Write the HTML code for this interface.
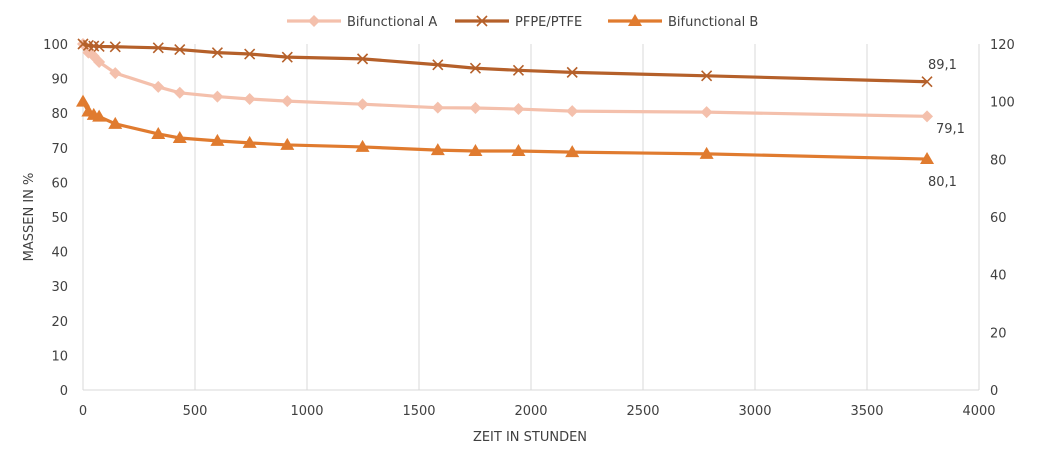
<!DOCTYPE html>
<html><head><meta charset="utf-8"><style>
body{margin:0;background:#fff;font-family:"DejaVu Sans","Liberation Sans",sans-serif;}
svg text{font-family:"DejaVu Sans","Liberation Sans",sans-serif;fill:#404040;font-size:13px;}
</style></head><body>
<svg id="c" width="1045" height="449"></svg>
<script>
const hours=[0,24,48,72,144,336,432,600,744,912,1248,1584,1752,1944,2184,2784,3768];
const seriesA=[100,97.5,96.5,94.8,91.6,87.6,85.9,84.8,84.1,83.5,82.6,81.6,81.5,81.2,80.6,80.3,79.1];
const seriesPFPE=[100,99.6,99.4,99.3,99.2,98.9,98.4,97.5,97.1,96.2,95.7,94,93,92.4,91.8,90.8,89.1];
const seriesB=[100,96.6,95.4,94.8,92.3,88.8,87.4,86.4,85.7,85.0,84.3,83.2,82.9,82.9,82.5,81.9,80.1];
const xTicks=[0,500,1000,1500,2000,2500,3000,3500,4000];
const yTicks=[0,10,20,30,40,50,60,70,80,90,100];
const y2Ticks=[0,20,40,60,80,100,120];
const endLabels=["79,1","89,1","80,1"];
const svg=document.getElementById('c');const NS='http://www.w3.org/2000/svg';
const X0=83,X1=979,Y0=390,Y1=44;
const xs=v=>X0+v/4000*(X1-X0), ys=v=>Y0-v/100*(Y0-Y1), ys2=v=>Y0-v/120*(Y0-Y1);
function mk(t,a,p){const e=document.createElementNS(NS,t);for(const k in a)e.setAttribute(k,a[k]);(p||svg).appendChild(e);return e;}
xTicks.forEach(t=>{const l=mk('line',{x1:xs(t),x2:xs(t),y1:Y1,y2:Y0,stroke:'#d9d9d9','stroke-width':1});

const tx=mk('text',{x:xs(t),y:415,'text-anchor':'middle'});tx.textContent=t;
});
mk('line',{x1:X0,x2:X1,y1:Y0,y2:Y0,stroke:'#d9d9d9'});
yTicks.forEach(t=>{const tx=mk('text',{x:68,y:ys(t)+5,'text-anchor':'end'});tx.textContent=t;
});
y2Ticks.forEach(t=>{const tx=mk('text',{x:990,y:ys2(t)+5,'text-anchor':'start'});tx.textContent=t;
});
let t=mk('text',{x:530,y:441,'text-anchor':'middle'});t.textContent='ZEIT IN STUNDEN';

t=mk('text',{x:0,y:0,'text-anchor':'middle',transform:'translate(33,217) rotate(-90)'});t.textContent='MASSEN IN %';

function marker(type,x,y,col,g){
 if(type==='d')mk('path',{d:`M${x} ${y-6}L${x+6} ${y}L${x} ${y+6}L${x-6} ${y}Z`,fill:col},g);
 else if(type==='x')mk('path',{d:`M${x-5} ${y-5}L${x+5} ${y+5}M${x-5} ${y+5}L${x+5} ${y-5}`,stroke:col,'stroke-width':1.6},g);
 else mk('path',{d:`M${x} ${y-7}L${x+7} ${y+5}L${x-7} ${y+5}Z`,fill:col},g);}
const series=[{d:seriesA,c:'#f4c0ac',m:'d',f:ys,n:'bifunctional-a',lx:936,ly:133},
{d:seriesPFPE,c:'#b5602a',m:'x',f:ys,n:'pfpe-ptfe',lx:928,ly:69},
{d:seriesB,c:'#e07b2f',m:'t',f:ys2,n:'bifunctional-b',lx:928,ly:186}];
series.forEach((s,i)=>{const g=mk('g',{});
 mk('polyline',{points:hours.map((h,j)=>xs(h)+','+s.f(s.d[j])).join(' '),fill:'none',stroke:s.c,'stroke-width':3.2},g);
 hours.forEach((h,j)=>marker(s.m,xs(h),s.f(s.d[j]),s.c,g));
 const l=mk('text',{x:s.lx,y:s.ly,'font-size':'12px'});l.textContent=endLabels[i];
 });
const leg=[['Bifunctional A',287,0],['PFPE/PTFE',455,1],['Bifunctional B',608,2]];
leg.forEach(([n,x,i])=>{const g=mk('g',{});
 const s=series[i];mk('line',{x1:x,x2:x+54,y1:21,y2:21,stroke:s.c,'stroke-width':3.2},g);marker(s.m,x+27,21,s.c,g);
 const tt=mk('text',{x:x+60,y:26},g);tt.textContent=n;});
</script></body></html>
